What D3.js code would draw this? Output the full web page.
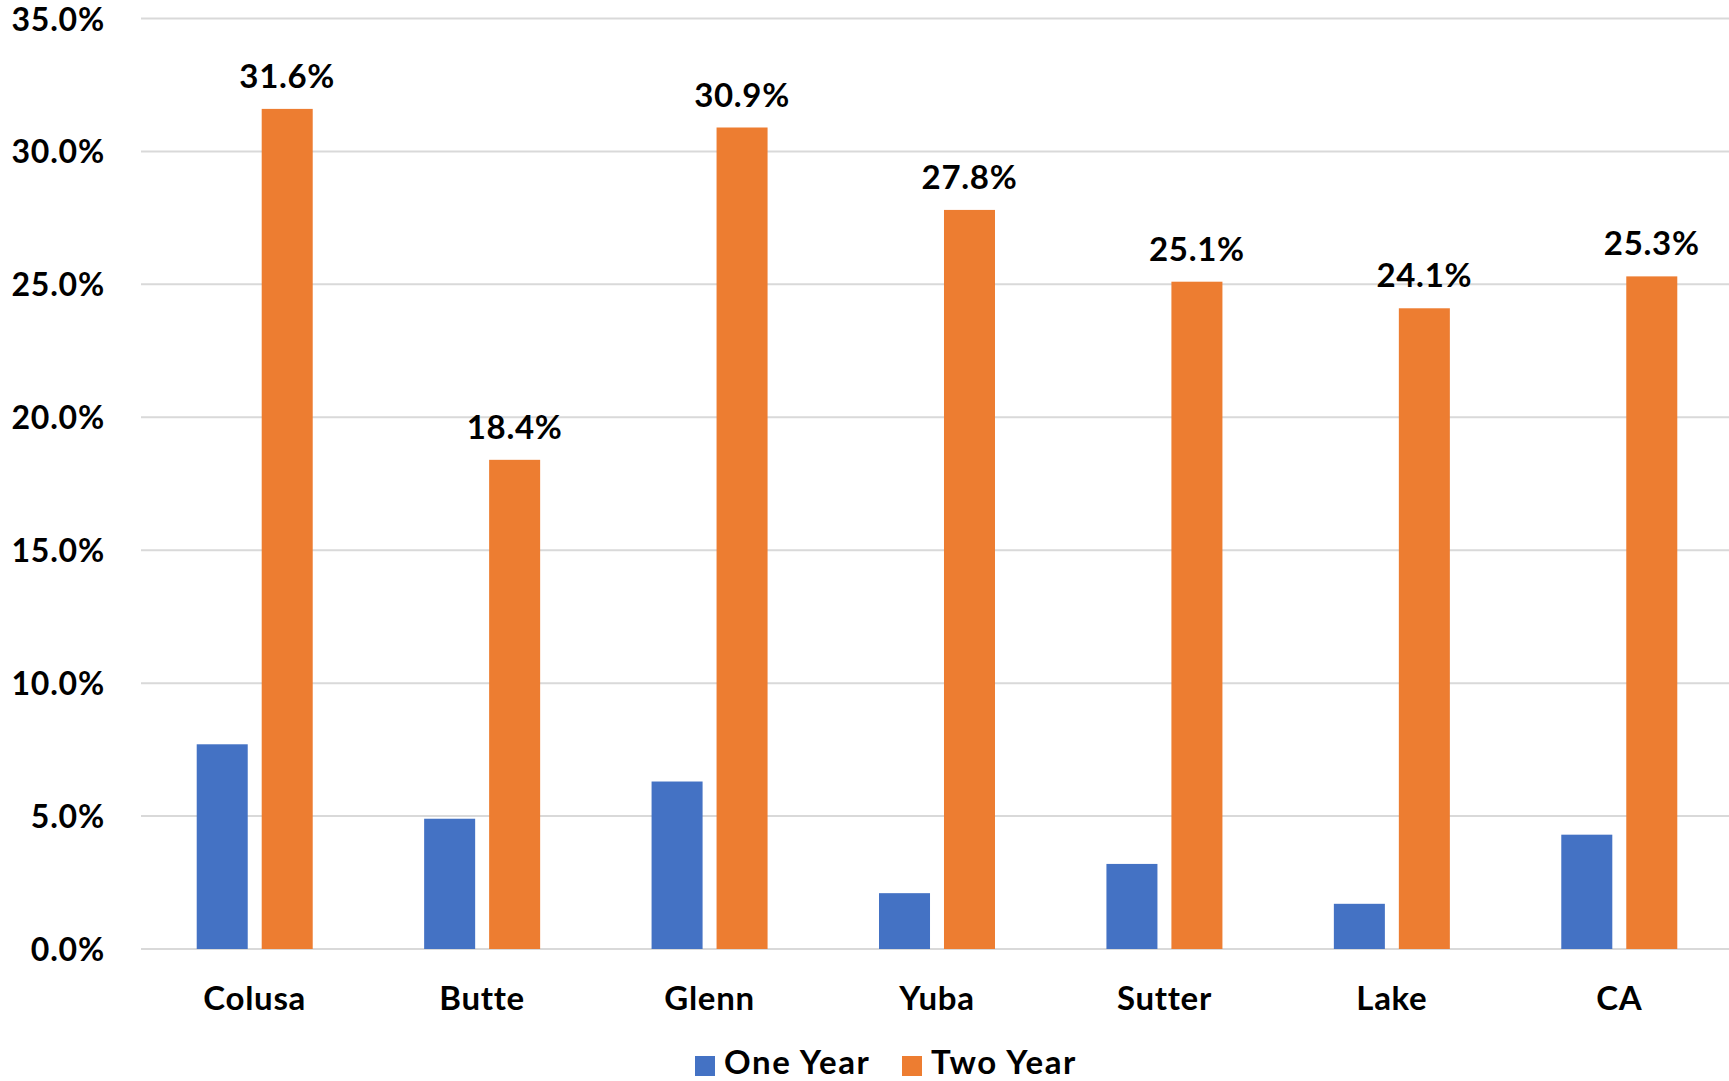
<!DOCTYPE html>
<html>
<head>
<meta charset="utf-8">
<script src="https://cdn.jsdelivr.net/npm/d3@7"></script>
<style>
  html, body { margin: 0; padding: 0; background: #fff; }
  svg { display: block; font-family: Lato, "Open Sans", sans-serif; font-weight: 700; }
</style>
</head>
<body>
<svg id="chart" width="1729" height="1081"></svg>
<script>
// Counties compared, with one-year and two-year change (percent)
const categories = ["Colusa", "Butte", "Glenn", "Yuba", "Sutter", "Lake", "CA"];
const oneYear = [7.7, 4.9, 6.3, 2.1, 3.2, 1.7, 4.3];
const twoYear = [31.6, 18.4, 30.9, 27.8, 25.1, 24.1, 25.3];
const seriesNames = ["One Year", "Two Year"];
const yTicks = [0, 5, 10, 15, 20, 25, 30, 35];

const colors = { "One Year": "#4472C4", "Two Year": "#ED7D31" };
const fmt = v => v.toFixed(1) + "%";

const svg = d3.select("#chart");
const W = 1729;
const plot = { left: 141, right: 1733, top: 18.5, bottom: 949 };
const FS = 33;
const LS = 0.7;

const x = d3.scaleBand().domain(categories).range([plot.left, plot.right]).padding(0);
const groupWidth = 116;
const xs = d3.scaleBand().domain(seriesNames)
  .range([0, groupWidth]).paddingInner(0.215).paddingOuter(0);
const y = d3.scaleLinear().domain([0, 35]).range([plot.bottom, plot.top]);

// Horizontal gridlines
svg.append("g")
  .selectAll("line")
  .data(yTicks)
  .join("line")
  .attr("x1", plot.left)
  .attr("x2", W)
  .attr("y1", d => y(d))
  .attr("y2", d => y(d))
  .attr("stroke", "#D9D9D9")
  .attr("stroke-width", 2);

// Y axis labels
const yAxis = d3.axisLeft(y).tickValues(yTicks).tickFormat(fmt).tickSize(0).tickPadding(0);
const yg = svg.append("g").attr("transform", "translate(105,0)").call(yAxis);
yg.select(".domain").remove();
yg.selectAll("text")
  .attr("font-family", "Lato, sans-serif")
  .attr("font-weight", 700)
  .attr("font-size", 32)
  .attr("letter-spacing", 0.8)
  .attr("fill", "#000")
  .attr("dy", "0.36em");

// Category labels
const xAxis = d3.axisBottom(x).tickSize(0).tickPadding(0);
const xg = svg.append("g").attr("transform", `translate(0,${plot.bottom})`).call(xAxis);
xg.select(".domain").remove();
xg.selectAll("text")
  .attr("font-family", "Lato, sans-serif")
  .attr("font-weight", 700)
  .attr("font-size", FS)
  .attr("letter-spacing", LS)
  .attr("fill", "#000")
  .attr("y", 61)
  .attr("dy", 0);

// Bars
const rows = categories.map((c, i) => ({
  cat: c,
  values: [
    { series: "One Year", value: oneYear[i] },
    { series: "Two Year", value: twoYear[i] }
  ]
}));

const groups = svg.append("g")
  .selectAll("g")
  .data(rows)
  .join("g")
  .attr("transform", d => `translate(${x(d.cat) + (x.bandwidth() - groupWidth) / 2},0)`);

groups.selectAll("rect")
  .data(d => d.values)
  .join("rect")
  .attr("x", d => xs(d.series))
  .attr("width", xs.bandwidth())
  .attr("y", d => y(d.value))
  .attr("height", d => y(0) - y(d.value))
  .attr("fill", d => colors[d.series]);

// Value labels on the two-year bars
groups.selectAll("text.val")
  .data(d => d.values.filter(v => v.series === "Two Year"))
  .join("text")
  .attr("class", "val")
  .attr("x", d => xs(d.series) + xs.bandwidth() / 2)
  .attr("y", d => y(d.value) - 21)
  .attr("text-anchor", "middle")
  .attr("font-size", FS)
  .attr("letter-spacing", LS)
  .attr("font-weight", 700)
  .attr("fill", "#000")
  .text(d => fmt(d.value));

// Legend
const legend = svg.append("g").attr("transform", "translate(0,1074)");
const legendPos = [{ name: "One Year", x: 695 }, { name: "Two Year", x: 902 }];
const li = legend.selectAll("g").data(legendPos).join("g")
  .attr("transform", d => `translate(${d.x},0)`);
li.append("rect")
  .attr("x", 0).attr("y", -18).attr("width", 20).attr("height", 20)
  .attr("fill", d => colors[d.name]);
li.append("text")
  .attr("x", 29).attr("y", 0)
  .attr("font-size", FS)
  .attr("letter-spacing", 1.6)
  .attr("font-weight", 700)
  .attr("fill", "#000")
  .text(d => d.name);
</script>
</body>
</html>
